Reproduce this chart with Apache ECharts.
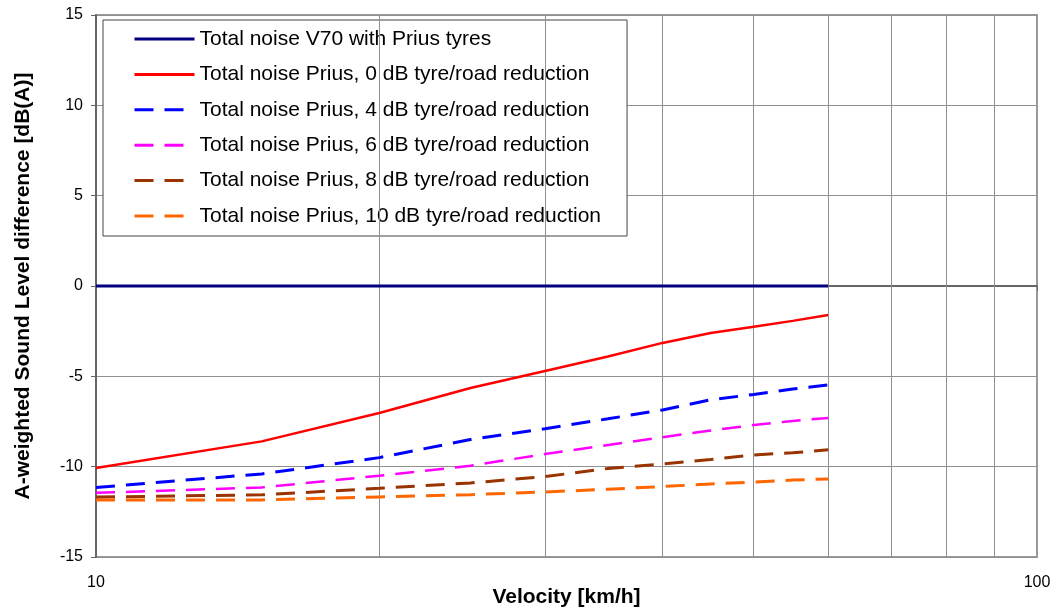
<!DOCTYPE html>
<html>
<head>
<meta charset="utf-8">
<script src="https://cdn.jsdelivr.net/npm/echarts@6/dist/echarts.min.js"></script>
<style>
html,body{margin:0;padding:0;background:#fff;}
#chart{width:1058px;height:611px;}
</style>
</head>
<body>
<div id="chart"></div>
<script>
// Velocities [km/h]
const velocities = [10, 15, 20, 25, 30, 35, 40, 45, 50, 55, 60];
// Series values [dB(A)]
const v70Prius = [0, 0, 0, 0, 0, 0, 0, 0, 0, 0, 0];
const prius0 = [-10.07, -8.6, -7.03, -5.65, -4.7, -3.9, -3.15, -2.6, -2.25, -1.93, -1.6];
const prius4 = [-11.15, -10.4, -9.5, -8.5, -7.9, -7.35, -6.86, -6.3, -6.0, -5.7, -5.48];
const prius6 = [-11.45, -11.15, -10.5, -9.95, -9.3, -8.8, -8.37, -8.0, -7.7, -7.47, -7.3];
const prius8 = [-11.68, -11.56, -11.2, -10.9, -10.55, -10.1, -9.85, -9.6, -9.35, -9.23, -9.07];
const prius10 = [-11.84, -11.84, -11.68, -11.55, -11.4, -11.25, -11.1, -10.96, -10.85, -10.74, -10.68];
// Log grid lines between decades
const minorGridValues = [20, 30, 40, 50, 60, 70, 80, 90];
const seriesNames = [
  'Total noise V70 with Prius tyres',
  'Total noise Prius, 0 dB tyre/road reduction',
  'Total noise Prius, 4 dB tyre/road reduction',
  'Total noise Prius, 6 dB tyre/road reduction',
  'Total noise Prius, 8 dB tyre/road reduction',
  'Total noise Prius, 10 dB tyre/road reduction'
];
const seriesValues = [v70Prius, prius0, prius4, prius6, prius8, prius10];
const seriesColors = ['#000080', '#FF0000', '#0000FF', '#FF00FF', '#993300', '#FF6600'];
const seriesDashed = [false, false, true, true, true, true];
const seriesWidths = [3, 2.5, 3, 2.5, 3, 3];

const FONT = 'Liberation Sans, Arial, sans-serif';

const series = seriesNames.map((name, i) => ({
  name: name,
  type: 'line',
  symbol: 'none',
  data: velocities.map((v, j) => [v, seriesValues[i][j]]),
  lineStyle: {
    color: seriesColors[i],
    width: seriesWidths[i],
    type: seriesDashed[i] ? [19, 11] : 'solid'
  },
  itemStyle: { color: seriesColors[i] },
  z: 10 - i,
  animation: false
}));

series.push({
  name: 'grid',
  type: 'line',
  data: [],
  silent: true,
  animation: false,
  markLine: {
    silent: true,
    symbol: ['none', 'none'],
    label: { show: false },
    lineStyle: { color: '#909090', width: 1, type: 'solid' },
    data: minorGridValues.map(v => ({ xAxis: v })),
    animation: false
  },
  z: 1
});

const chart = echarts.init(document.getElementById('chart'));
chart.setOption({
  animation: false,
  backgroundColor: '#ffffff',
  grid: {
    left: 96, right: 21, top: 15, bottom: 54,
    containLabel: false,
    outerBoundsMode: 'none',
    show: true, borderColor: '#9a9a9a', borderWidth: 2
  },
  legend: {
    data: seriesNames,
    orient: 'vertical',
    left: 103, top: 20,
    backgroundColor: '#ffffff',
    borderColor: '#444444',
    borderWidth: 1,
    padding: [8.5, 26, 9.5, 30],
    itemWidth: 60,
    itemHeight: 14,
    itemGap: 14.4,
    itemStyle: { opacity: 0 },
    lineStyle: { width: 3 },
    textStyle: { fontFamily: FONT, fontSize: 21, lineHeight: 21, color: '#000000' },
    selectedMode: false
  },
  xAxis: {
    type: 'log',
    logBase: 10,
    min: 10, max: 100,
    name: 'Velocity [km/h]',
    nameLocation: 'middle',
    nameGap: 30,
    nameMoveOverlap: false,
    nameTextStyle: { fontFamily: FONT, fontSize: 21, fontWeight: 'bold', color: '#000' },
    axisLine: { show: true, lineStyle: { color: '#666666', width: 2 } },
    axisTick: { show: true, length: 5, lineStyle: { color: '#666666' } },
    axisLabel: { fontFamily: FONT, fontSize: 16, color: '#000', margin: 18 },
    splitLine: { show: false }
  },
  yAxis: {
    type: 'value',
    min: -15, max: 15, interval: 5,
    name: 'A-weighted Sound Level difference [dB(A)]',
    nameLocation: 'middle',
    nameGap: 62,
    nameMoveOverlap: false,
    nameTextStyle: { fontFamily: FONT, fontSize: 21, fontWeight: 'bold', color: '#000' },
    axisLine: { show: true, onZero: false, lineStyle: { color: '#666666', width: 2 } },
    axisTick: { show: true, length: 5, lineStyle: { color: '#666666' } },
    axisLabel: { fontFamily: FONT, fontSize: 16, color: '#000', margin: 13 },
    splitLine: { show: true, lineStyle: { color: '#909090', width: 1 } }
  },
  series: series
});
</script>
</body>
</html>
